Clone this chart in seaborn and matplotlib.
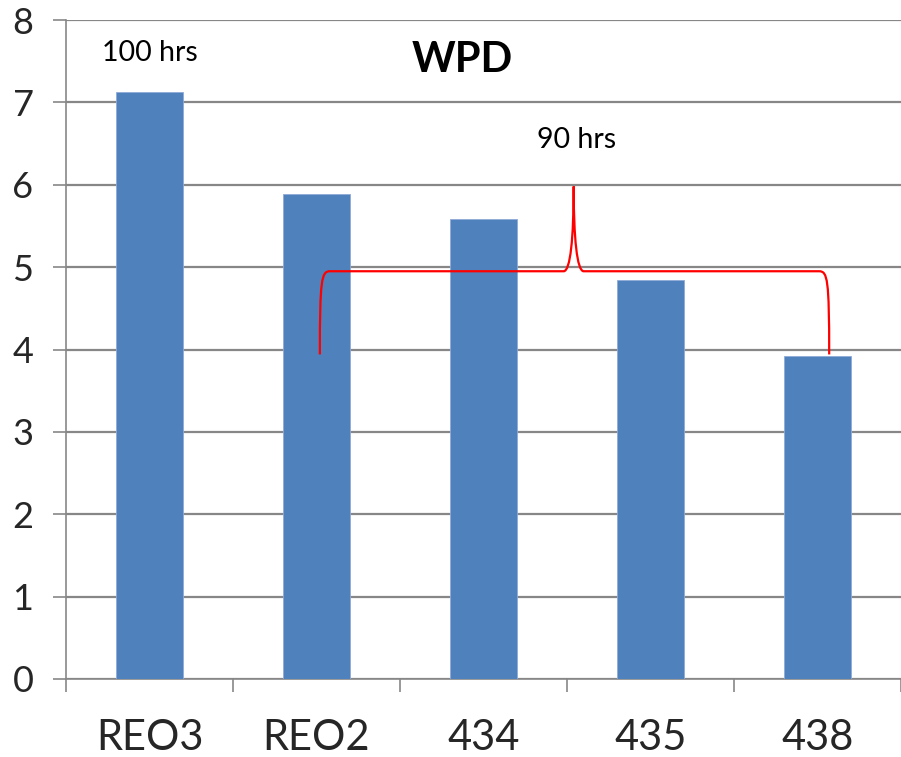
import matplotlib
matplotlib.use("Agg")
import matplotlib.pyplot as plt
from matplotlib.path import Path
from matplotlib.patches import PathPatch
import seaborn as sns
import pandas as pd

# WPD per sample
samples = ["REO3", "REO2", "434", "435", "438"]
wpd = [7.12, 5.89, 5.59, 4.84, 3.92]
y_ticks = [0, 1, 2, 3, 4, 5, 6, 7, 8]

sns.set_theme(style="white")
plt.rcParams["font.family"] = ["Lato", "DejaVu Sans"]

DPI = 100
fig = plt.figure(figsize=(9.01, 7.57), dpi=DPI)
ax = fig.add_axes([66 / 901, 78 / 757, 835 / 901, 659 / 757])

df = pd.DataFrame({"sample": samples, "wpd": wpd})
sns.barplot(data=df, x="sample", y="wpd", color="#4F81BD", saturation=1,
            width=0.396, edgecolor="#8FAAD6", linewidth=0.6, ax=ax, zorder=3)

grid_c = "#878787"
ax.set_ylim(0, 8)
ax.set_xlim(-0.5, 4.5 - 7 / 168.4)
ax.set_yticks(y_ticks)
ax.yaxis.grid(True, color=grid_c, linewidth=1.6, zorder=0)
ax.set_axisbelow(True)
ax.set_xlabel("")
ax.set_ylabel("")

for s in ("top", "right"):
    ax.spines[s].set_visible(False)
for s in ("left", "bottom"):
    ax.spines[s].set_color(grid_c)
    ax.spines[s].set_linewidth(1.2)

ax.tick_params(axis="y", length=9.4, width=1.2, color=grid_c, pad=14,
               labelsize=26, left=True)
ax.tick_params(axis="x", which="major", length=0, pad=29, labelsize=30)
ax.set_xticks([i - 0.5 for i in range(len(samples) + 1)], minor=True)
ax.tick_params(axis="x", which="minor", length=9.4, width=1.2, color=grid_c,
               bottom=True, direction="out")

# curly bracket grouping the 90 hrs samples
x0, x1, xm = 1.02, 4.07, 2.54
yb, yh, yp = 3.94, 4.95, 5.98
dx = 0.06
verts = [
    (x0, yb),
    (x0, yh - 0.1), (x0 + 0.01, yh), (x0 + dx, yh),
    (xm - dx, yh),
    (xm - 0.02, yh), (xm, yh + 0.4), (xm, yp),
    (xm, yh + 0.4), (xm + 0.02, yh), (xm + dx, yh),
    (x1 - dx, yh),
    (x1 - 0.01, yh), (x1, yh - 0.1), (x1, yb),
]
codes = [Path.MOVETO,
         Path.CURVE4, Path.CURVE4, Path.CURVE4,
         Path.LINETO,
         Path.CURVE4, Path.CURVE4, Path.CURVE4,
         Path.CURVE4, Path.CURVE4, Path.CURVE4,
         Path.LINETO,
         Path.CURVE4, Path.CURVE4, Path.CURVE4]
ax.add_patch(PathPatch(Path(verts, codes), fill=False, edgecolor="#FF0000",
                       linewidth=1.6, zorder=5))

ax.text(0, 7.6, "100 hrs", ha="center", va="center", fontsize=20.5, color="black")
ax.text(2.56, 6.54, "90 hrs", ha="center", va="center", fontsize=20.5, color="black")
ax.text(1.87, 7.51, "WPD", ha="center", va="center", fontsize=30,
        fontweight="bold", color="black")

fig.savefig("out.png", dpi=DPI)
